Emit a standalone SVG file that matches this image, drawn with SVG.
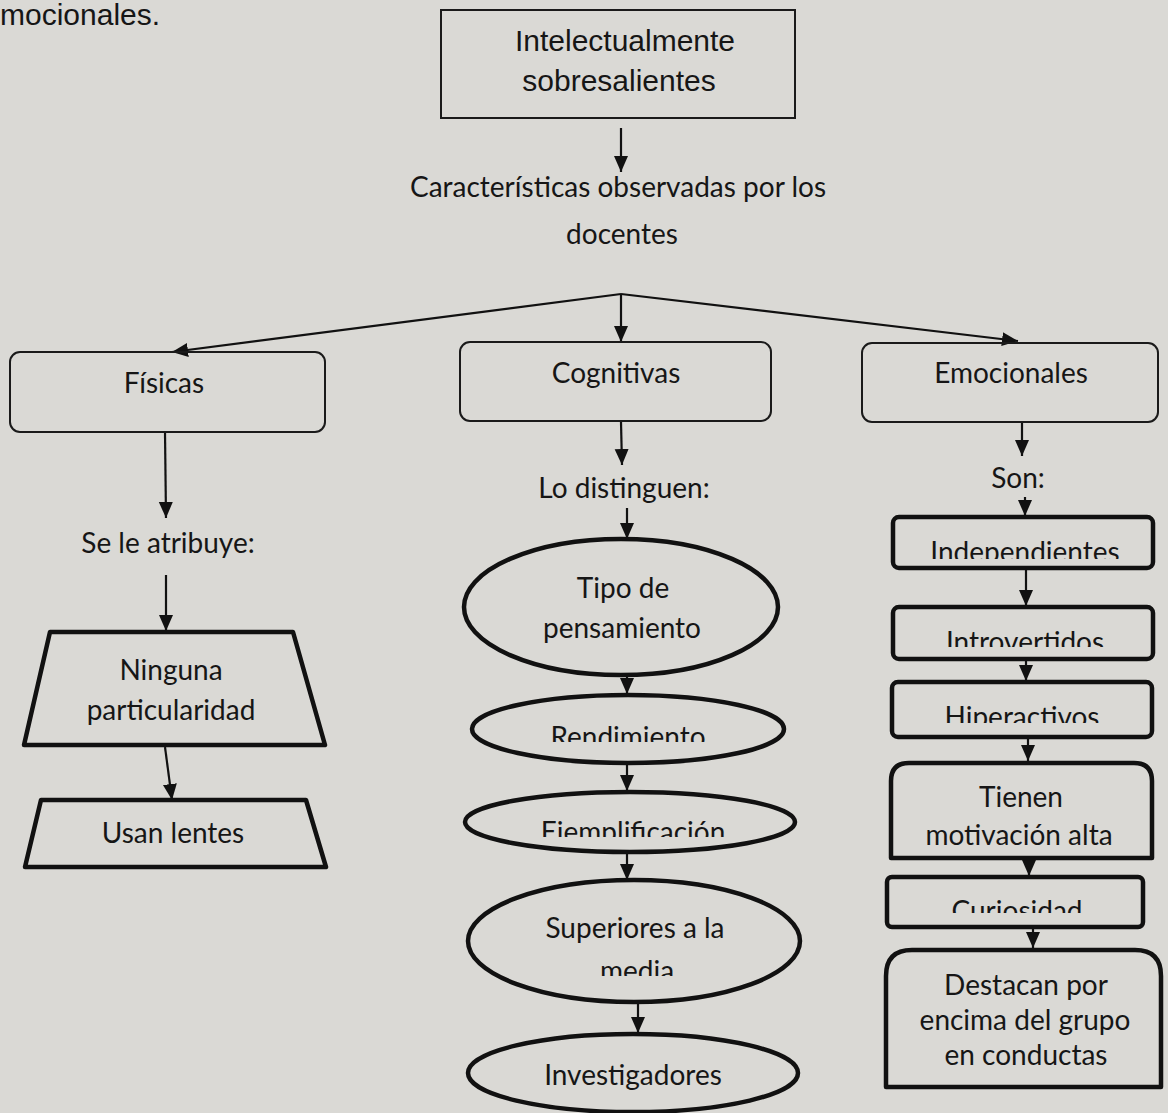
<svg xmlns="http://www.w3.org/2000/svg" width="1168" height="1113" viewBox="0 0 1168 1113">
<defs>
<style>
.bg{fill:#dad9d5}
.t{font-family:Lato,"Noto Sans",sans-serif;font-size:28px;fill:#161616;text-anchor:middle}
.a{font-family:"Liberation Sans",Arial,sans-serif;font-size:30px;fill:#161616;text-anchor:middle}
.thin{fill:none;stroke:#1a1a1a;stroke-width:2}
.thick{fill:none;stroke:#111;stroke-width:4.5;stroke-linejoin:round}
.c line{stroke:#111;stroke-width:2.2;marker-end:url(#ah)}
</style>
<marker id="ah" markerUnits="userSpaceOnUse" markerWidth="16" markerHeight="15" refX="16" refY="7" orient="auto">
<path d="M0,0 L16,7 L0,14 Z" fill="#111"/>
</marker>
<clipPath id="cRen"><rect x="450" y="700" width="360" height="42"/></clipPath>
<clipPath id="cEje"><rect x="450" y="800" width="360" height="37"/></clipPath>
<clipPath id="cMed"><rect x="450" y="950" width="360" height="26"/></clipPath>
<clipPath id="cInd"><rect x="880" y="525" width="280" height="34"/></clipPath>
<clipPath id="cIntro"><rect x="880" y="615" width="280" height="32"/></clipPath>
<clipPath id="cHip"><rect x="880" y="690" width="280" height="33"/></clipPath>
<clipPath id="cCur"><rect x="880" y="885" width="280" height="28"/></clipPath>
</defs>
<rect class="bg" x="0" y="0" width="1168" height="1113"/>
<text class="a" x="0" y="25" style="text-anchor:start">mocionales.</text>

<g id="connectors" class="c">
<line x1="621" y1="128" x2="621" y2="172"/>
<line x1="621" y1="294" x2="172" y2="352"/>
<line x1="621" y1="294" x2="621" y2="342"/>
<line x1="621" y1="294" x2="1018" y2="341"/>
<line x1="165" y1="432" x2="166" y2="518"/>
<line x1="166" y1="575" x2="166" y2="631"/>
<line x1="165" y1="747" x2="172" y2="800"/>
<line x1="621" y1="422" x2="622" y2="465"/>
<line x1="627" y1="508" x2="627" y2="539"/>
<line x1="627" y1="676" x2="627" y2="694"/>
<line x1="627" y1="764" x2="627" y2="791"/>
<line x1="627" y1="854" x2="627" y2="880"/>
<line x1="638" y1="1003" x2="638" y2="1033"/>
<line x1="1022" y1="423" x2="1022" y2="456"/>
<line x1="1025" y1="497" x2="1025" y2="516"/>
<line x1="1026" y1="570" x2="1026" y2="606"/>
<line x1="1026" y1="661" x2="1026" y2="681"/>
<line x1="1028" y1="739" x2="1028" y2="761"/>
<line x1="1029" y1="857" x2="1029" y2="876"/>
<line x1="1033" y1="929" x2="1033" y2="948"/>
</g>

<g id="n-top"><rect class="thin" x="441" y="10" width="354" height="108"/>
<text class="a" x="625" y="51">Intelectualmente</text><text class="a" x="619" y="91">sobresalientes</text></g>
<g id="n-caract"><text class="t" x="618" y="197">Características observadas por los</text><text class="t" x="622" y="244">docentes</text></g>

<g id="n-fisicas"><rect class="thin" x="10" y="352" width="315" height="80" rx="10"/><text class="t" x="164" y="393">Físicas</text></g>
<g id="n-atribuye"><text class="t" x="168" y="553">Se le atribuye:</text></g>
<g id="n-ninguna"><path class="thick" d="M50,632 L293,632 L325,745 L24,745 Z"/><text class="t" x="171" y="680">Ninguna</text><text class="t" x="171" y="720">particularidad</text></g>
<g id="n-lentes"><path class="thick" d="M41,800 L306,800 L326,867 L25,867 Z"/><text class="t" x="173" y="843">Usan lentes</text></g>

<g id="n-cognitivas"><rect class="thin" x="460" y="342" width="311" height="79" rx="10"/><text class="t" x="616" y="383">Cognitivas</text></g>
<g id="n-distinguen"><text class="t" x="624" y="498">Lo distinguen:</text></g>
<g id="n-tipo"><ellipse class="thick" cx="621" cy="607" rx="157" ry="68"/><text class="t" x="623" y="598">Tipo de</text><text class="t" x="622" y="638">pensamiento</text></g>
<g id="n-rend"><ellipse class="thick" cx="628" cy="729" rx="156" ry="34"/><text class="t" x="628" y="747" clip-path="url(#cRen)">Rendimiento</text></g>
<g id="n-ejem"><ellipse class="thick" cx="630" cy="822" rx="165" ry="30"/><text class="t" x="633" y="842" clip-path="url(#cEje)">Ejemplificación</text></g>
<g id="n-sup"><ellipse class="thick" cx="634" cy="941" rx="166" ry="61"/><text class="t" x="635" y="938">Superiores a la</text><text class="t" x="637" y="981" clip-path="url(#cMed)">media</text></g>
<g id="n-inv"><ellipse class="thick" cx="633" cy="1073" rx="165" ry="39"/><text class="t" x="633" y="1085">Investigadores</text></g>

<g id="n-emocionales"><rect class="thin" x="862" y="343" width="296" height="79" rx="10"/><text class="t" x="1011" y="383">Emocionales</text></g>
<g id="n-son"><text class="t" x="1018" y="488">Son:</text></g>
<g id="n-indep"><rect class="thick" x="893" y="517" width="260" height="51" rx="6"/><text class="t" x="1025" y="562" clip-path="url(#cInd)">Independientes</text></g>
<g id="n-intro"><rect class="thick" x="893" y="607" width="260" height="52" rx="6"/><text class="t" x="1025" y="652" clip-path="url(#cIntro)">Introvertidos</text></g>
<g id="n-hiper"><rect class="thick" x="892" y="682" width="260" height="55" rx="6"/><text class="t" x="1022" y="727" clip-path="url(#cHip)">Hiperactivos</text></g>
<g id="n-tienen"><path class="thick" d="M891,858 L891,781 Q891,763 909,763 L1134,763 Q1152,763 1152,781 L1152,858 Z"/><text class="t" x="1021" y="807">Tienen</text><text class="t" x="1019" y="845">motivación alta</text></g>
<g id="n-curio"><rect class="thick" x="887" y="877" width="256" height="50" rx="5"/><text class="t" x="1017" y="921" clip-path="url(#cCur)">Curiosidad</text></g>
<g id="n-destacan"><path class="thick" d="M886,1087 L886,976 Q886,950 912,950 L1135,950 Q1161,950 1161,976 L1161,1087 Z"/><text class="t" x="1026" y="995">Destacan por</text><text class="t" x="1025" y="1030">encima del grupo</text><text class="t" x="1026" y="1065">en conductas</text></g>
</svg>
